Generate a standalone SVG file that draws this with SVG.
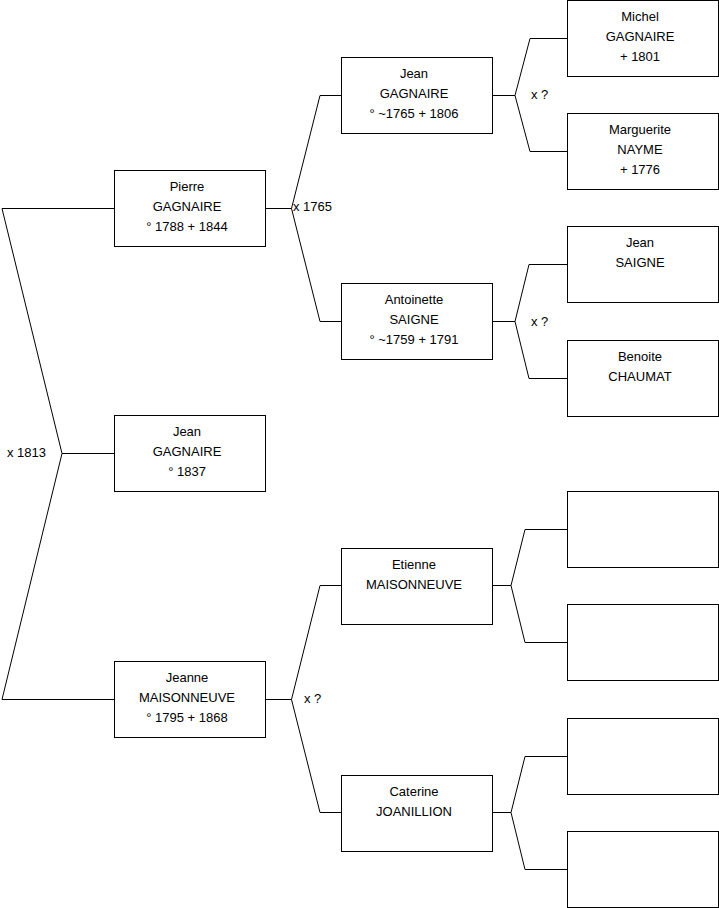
<svg xmlns="http://www.w3.org/2000/svg" width="719" height="908" viewBox="0 0 719 908">
<style>
.box{fill:#fff;stroke:#000;stroke-width:1}
.lnk{fill:none;stroke:#000;stroke-width:1}
text{font-family:"Liberation Sans",Arial,sans-serif;font-size:13px;fill:#000}
.c{text-anchor:middle}
</style>
<rect x="0" y="0" width="719" height="908" fill="#fff"/>
<g id="connectors">
<path class="lnk" d="M114.5 208.5 H2 L62 453.5 H114.5 M62 453.5 L2 699.5 H114.5"/>
<path class="lnk" d="M265.5 208.5 H291.5 L320 95.5 H341.5 M291.5 208.5 L320 321.5 H341.5"/>
<path class="lnk" d="M265.5 699.5 H291.5 L320 585.5 H341.5 M291.5 699.5 L320 812.5 H341.5"/>
<path class="lnk" d="M492.5 95.5 H515 L530 38.5 H567.5 M515 95.5 L530 151.5 H567.5"/>
<path class="lnk" d="M492.5 321.5 H515 L529 264.5 H567.5 M515 321.5 L529 378.5 H567.5"/>
<path class="lnk" d="M492.5 585.5 H511 L525 529.5 H567.5 M511 585.5 L525 642.5 H567.5"/>
<path class="lnk" d="M492.5 812.5 H511 L525 756.5 H567.5 M511 812.5 L525 869.5 H567.5"/>
<text x="7" y="456.5">x 1813</text>
<text x="293" y="211">x 1765</text>
<text x="531" y="98.5">x ?</text>
<text x="531" y="326">x ?</text>
<text x="304" y="703">x ?</text>
</g>
<g id="pierre"><rect class="box" x="114.5" y="170.5" width="151" height="76"/>
<text class="c" x="187" y="191">Pierre</text><text class="c" x="187" y="211">GAGNAIRE</text><text class="c" x="187" y="231">° 1788 + 1844</text></g>
<g id="jean-child"><rect class="box" x="114.5" y="415.5" width="151" height="76"/>
<text class="c" x="187" y="436">Jean</text><text class="c" x="187" y="456">GAGNAIRE</text><text class="c" x="187" y="476">° 1837</text></g>
<g id="jeanne"><rect class="box" x="114.5" y="661.5" width="151" height="76"/>
<text class="c" x="187" y="682">Jeanne</text><text class="c" x="187" y="702">MAISONNEUVE</text><text class="c" x="187" y="722">° 1795 + 1868</text></g>
<g id="jean-gagnaire"><rect class="box" x="341.5" y="57.5" width="151" height="76"/>
<text class="c" x="414" y="78">Jean</text><text class="c" x="414" y="98">GAGNAIRE</text><text class="c" x="414" y="118">° ~1765 + 1806</text></g>
<g id="antoinette"><rect class="box" x="341.5" y="283.5" width="151" height="76"/>
<text class="c" x="414" y="304">Antoinette</text><text class="c" x="414" y="324">SAIGNE</text><text class="c" x="414" y="344">° ~1759 + 1791</text></g>
<g id="etienne"><rect class="box" x="341.5" y="548.5" width="151" height="76"/>
<text class="c" x="414" y="569">Etienne</text><text class="c" x="414" y="589">MAISONNEUVE</text></g>
<g id="caterine"><rect class="box" x="341.5" y="775.5" width="151" height="76"/>
<text class="c" x="414" y="796">Caterine</text><text class="c" x="414" y="816">JOANILLION</text></g>
<g id="michel"><rect class="box" x="567.5" y="0.5" width="151" height="76"/>
<text class="c" x="640" y="21">Michel</text><text class="c" x="640" y="41">GAGNAIRE</text><text class="c" x="640" y="61">+ 1801</text></g>
<g id="marguerite"><rect class="box" x="567.5" y="113.5" width="151" height="76"/>
<text class="c" x="640" y="134">Marguerite</text><text class="c" x="640" y="154">NAYME</text><text class="c" x="640" y="174">+ 1776</text></g>
<g id="jean-saigne"><rect class="box" x="567.5" y="226.5" width="151" height="76"/>
<text class="c" x="640" y="247">Jean</text><text class="c" x="640" y="267">SAIGNE</text></g>
<g id="benoite"><rect class="box" x="567.5" y="340.5" width="151" height="76"/>
<text class="c" x="640" y="361">Benoite</text><text class="c" x="640" y="381">CHAUMAT</text></g>
<g id="empty1"><rect class="box" x="567.5" y="491.5" width="151" height="76"/></g>
<g id="empty2"><rect class="box" x="567.5" y="604.5" width="151" height="76"/></g>
<g id="empty3"><rect class="box" x="567.5" y="718.5" width="151" height="76"/></g>
<g id="empty4"><rect class="box" x="567.5" y="831.5" width="151" height="76"/></g>
</svg>
